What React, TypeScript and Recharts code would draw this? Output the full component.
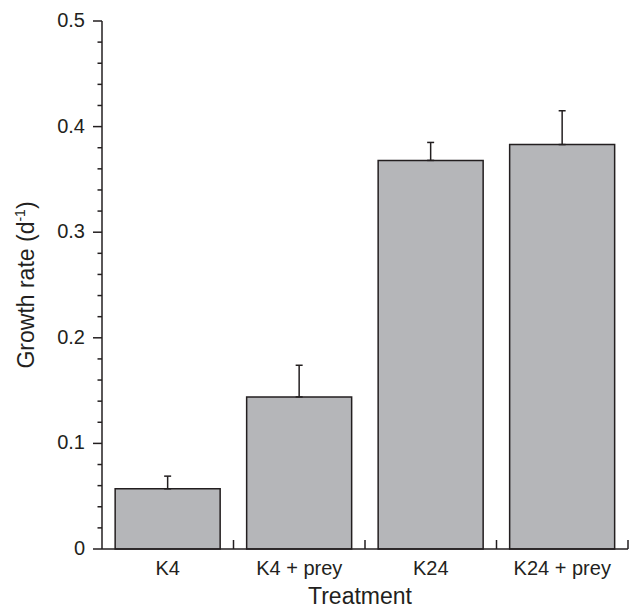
import { BarChart, Bar, XAxis, YAxis, ErrorBar, Label } from "recharts";

const treatments = ["K4", "K4 + prey", "K24", "K24 + prey"];
const growthRates = [0.057, 0.144, 0.368, 0.383];
const upperErrors = [0.012, 0.030, 0.017, 0.032];
const yTicks = [
  0, 0.02, 0.04, 0.06, 0.08, 0.1, 0.12, 0.14, 0.16, 0.18, 0.2, 0.22, 0.24,
  0.26, 0.28, 0.3, 0.32, 0.34, 0.36, 0.38, 0.4, 0.42, 0.44, 0.46, 0.48, 0.5,
];

const WIDTH = 630;
const HEIGHT = 610;
const Y_AXIS_W = 102;
const X_AXIS_H = 61;
const MARGIN = { top: 21, right: 2, left: 0, bottom: 0 };
const BAND = (WIDTH - Y_AXIS_W - MARGIN.right) / treatments.length;
const INK = "#231f20";
const FONT = "'Liberation Sans', Arial, Helvetica, sans-serif";

const data = treatments.map((name, i) => ({
  name,
  rate: growthRates[i],
  err: [0, upperErrors[i]],
}));

const YTick = ({ x, y, payload }: any) => {
  const v = payload.value;
  const major = Math.round(v * 100) % 10 === 0;
  return (
    <g>
      <line x1={x - (major ? 9 : 4.5)} x2={x} y1={y} y2={y} stroke={INK} strokeWidth={1.5} />
      {major && (
        <text x={x - 17} y={y} dy={6} textAnchor="end" fontSize={20} fill={INK} fontFamily={FONT}>
          {v === 0 ? "0" : v.toFixed(1)}
        </text>
      )}
    </g>
  );
};

const XTick = ({ x, y, payload }: any) => (
  <g>
    <line x1={x + BAND / 2} x2={x + BAND / 2} y1={y} y2={y - 9} stroke={INK} strokeWidth={1.5} />
    <text x={x} y={y + 26} textAnchor="middle" fontSize={20} fill={INK} fontFamily={FONT}>
      {payload.value}
    </text>
  </g>
);

const YTitle = ({ viewBox }: any) => {
  const cx = viewBox.x + 34;
  const cy = viewBox.y + viewBox.height / 2;
  return (
    <text
      x={cx}
      y={cy}
      transform={`rotate(-90, ${cx}, ${cy})`}
      textAnchor="middle"
      fontSize={23}
      fill={INK}
      fontFamily={FONT}
    >
      Growth rate (d
      <tspan dy={-9} fontSize={14}>-1</tspan>
      <tspan dy={9}>)</tspan>
    </text>
  );
};

const XTitle = ({ viewBox }: any) => (
  <text
    x={viewBox.x + viewBox.width / 2 - 5}
    y={viewBox.y + 55}
    textAnchor="middle"
    fontSize={23}
    fill={INK}
    fontFamily={FONT}
  >
    Treatment
  </text>
);

export default function App() {
  return (
    <div style={{ position: "absolute", left: 0, top: 0, background: "#fff" }}>
      <BarChart width={WIDTH} height={HEIGHT} data={data} margin={MARGIN} barCategoryGap="10%">
        <XAxis
          dataKey="name"
          height={X_AXIS_H}
          tickLine={false}
          tickSize={0}
          tickMargin={0}
          interval={0}
          tick={<XTick />}
          axisLine={{ stroke: INK, strokeWidth: 1.5 }}
        >
          <Label content={<XTitle />} />
        </XAxis>
        <YAxis
          width={Y_AXIS_W}
          domain={[0, 0.5]}
          ticks={yTicks}
          interval={0}
          tickLine={false}
          tickSize={0}
          tickMargin={0}
          tick={<YTick />}
          axisLine={{ stroke: INK, strokeWidth: 1.5 }}
        >
          <Label content={<YTitle />} />
        </YAxis>
        <Bar dataKey="rate" fill="#b5b6b9" stroke={INK} strokeWidth={1.5} isAnimationActive={false}>
          <ErrorBar
            dataKey="err"
            direction="y"
            width={3.5}
            stroke={INK}
            strokeWidth={1.5}
            isAnimationActive={false}
          />
        </Bar>
      </BarChart>
    </div>
  );
}
